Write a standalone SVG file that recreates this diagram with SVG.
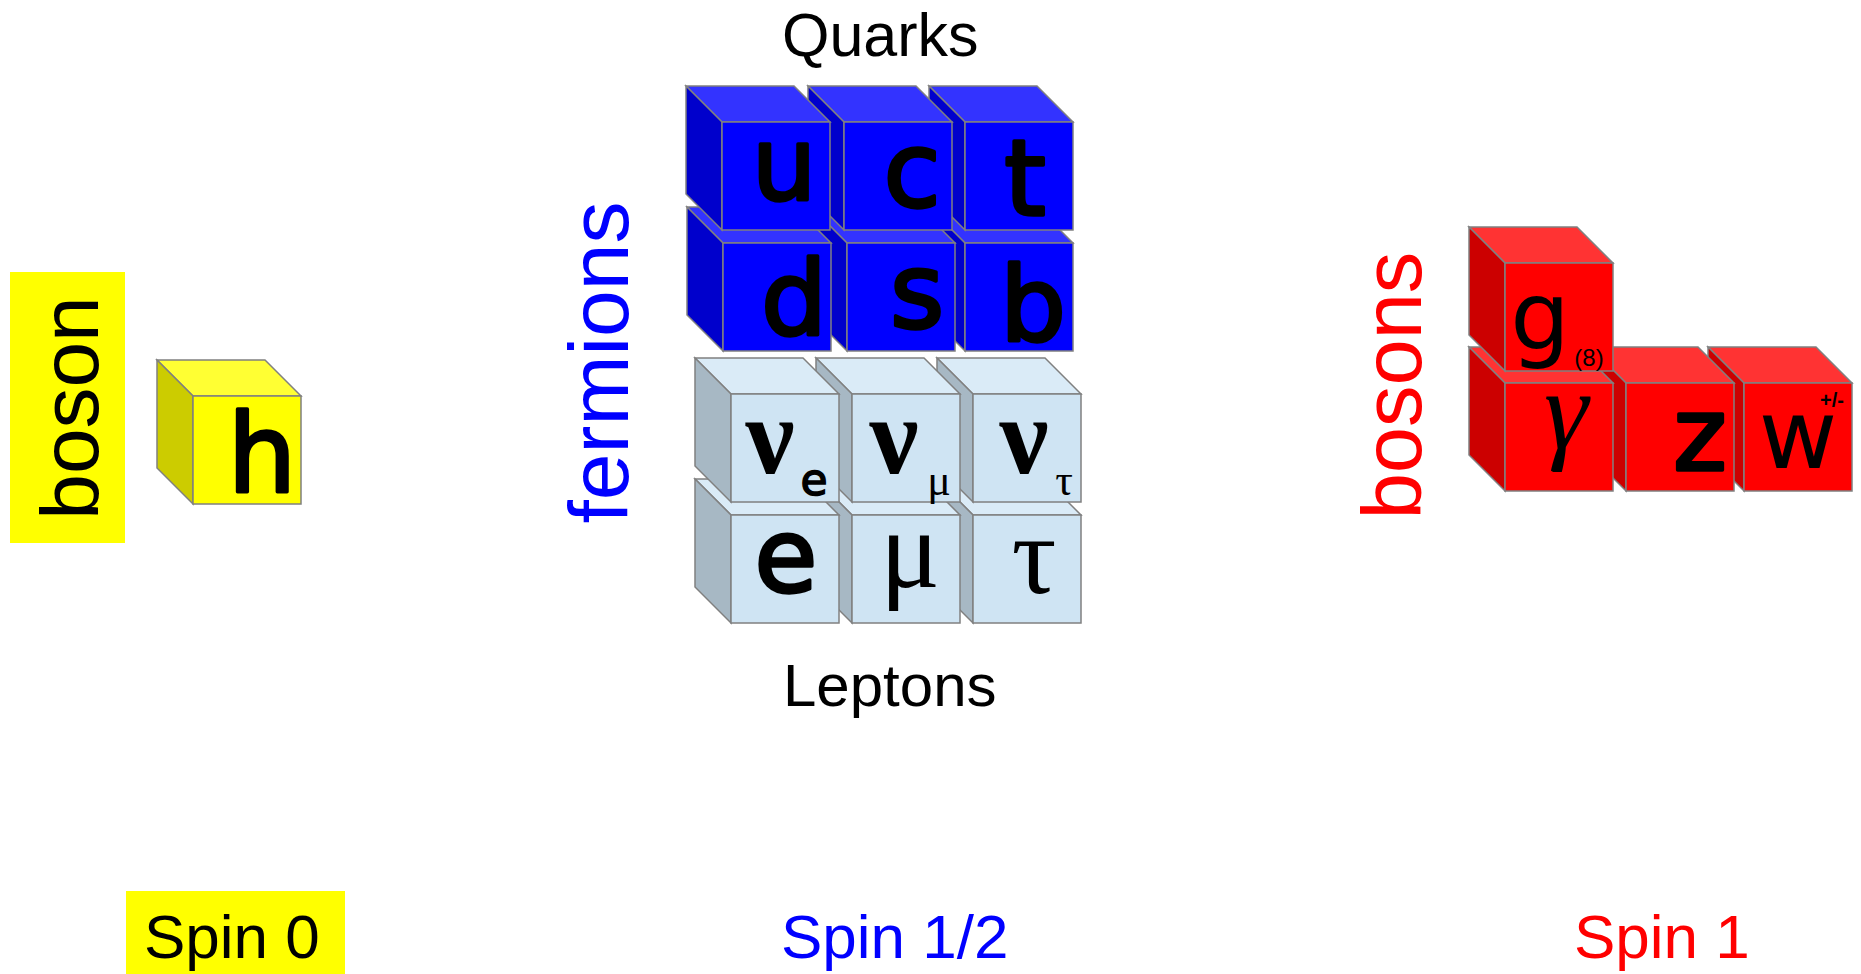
<svg xmlns="http://www.w3.org/2000/svg" width="1861" height="974" viewBox="0 0 1861 974">
<style>
.cube polygon,.cube rect{stroke:#808080;stroke-width:1.5}
.yF{fill:#FFFF00}.yT{fill:#FFFF33}.yL{fill:#CCCC00}
.bF{fill:#0000FF}.bT{fill:#3333FF}.bL{fill:#0000CC}
.lF{fill:#CFE4F3}.lT{fill:#DAEBF7}.lL{fill:#A7B8C4}
.rF{fill:#FF0000}.rT{fill:#FF3333}.rL{fill:#CC0000}
.lab{font-family:"Liberation Sans",Arial,sans-serif}
.hand{font-family:"DejaVu Sans",sans-serif;fill:#000;text-anchor:middle}
.thick{stroke:#000;stroke-width:3.5;stroke-linejoin:round;stroke-linecap:round}
.gr{font-family:"Liberation Serif","DejaVu Serif",serif;fill:#000;text-anchor:middle}
</style>
<rect width="1861" height="974" fill="#FFFFFF"/>

<!-- labels -->
<g id="label-boson">
<rect x="10" y="272" width="115" height="271" fill="#FFFF00"/>
<text class="lab" transform="translate(98,408) rotate(-90)" text-anchor="middle" font-size="82" fill="#000">boson</text>
</g>
<g id="label-fermions">
<text class="lab" transform="translate(628,362.5) rotate(-90)" text-anchor="middle" font-size="84" fill="#0000FF">fermions</text>
</g>
<g id="label-bosons">
<text class="lab" transform="translate(1421,385.5) rotate(-90)" text-anchor="middle" font-size="83" fill="#FF0000">bosons</text>
</g>
<g id="label-quarks"><text class="lab" x="782" y="56" font-size="61" fill="#000">Quarks</text></g>
<g id="label-leptons"><text class="lab" x="783" y="706" font-size="60" fill="#000">Leptons</text></g>
<g id="label-spin0">
<rect x="126" y="891" width="219" height="83" fill="#FFFF00"/>
<text class="lab" x="144" y="958" font-size="62" fill="#000">Spin 0</text>
</g>
<g id="label-spin12"><text class="lab" x="781" y="958" font-size="62" fill="#0000FF">Spin 1/2</text></g>
<g id="label-spin1"><text class="lab" x="1574" y="958" font-size="62" fill="#FF0000">Spin 1</text></g>

<!-- Higgs -->
<g id="cube-h" class="cube">
<polygon class="yT" points="157,360 265,360 301,396 193,396"/>
<polygon class="yL" points="157,360 193,396 193,504 157,468"/>
<rect class="yF" x="193" y="396" width="108" height="108"/>
<text class="hand thick" x="262" y="492" style="font-size:108px">h</text>
</g>

<!-- Quarks: row 2 first, right to left -->
<g id="cube-b" class="cube">
<polygon class="bT" points="929,207 1037,207 1073,243 965,243"/>
<polygon class="bL" points="929,207 965,243 965,351 929,315"/>
<rect class="bF" x="965" y="243" width="108" height="108"/>
<text class="hand thick" x="1033" y="341" style="font-size:104px">b</text>
</g>
<g id="cube-s" class="cube">
<polygon class="bT" points="811,207 919,207 955,243 847,243"/>
<polygon class="bL" points="811,207 847,243 847,351 811,315"/>
<rect class="bF" x="847" y="243" width="108" height="108"/>
<text class="hand thick" x="917" y="328" style="font-size:104px">s</text>
</g>
<g id="cube-d" class="cube">
<polygon class="bT" points="687,207 795,207 831,243 723,243"/>
<polygon class="bL" points="687,207 723,243 723,351 687,315"/>
<rect class="bF" x="723" y="243" width="108" height="108"/>
<text class="hand thick" x="794" y="335" style="font-size:104px">d</text>
</g>
<g id="cube-t" class="cube">
<polygon class="bT" points="929,86 1037,86 1073,122 965,122"/>
<polygon class="bL" points="929,86 965,122 965,230 929,194"/>
<rect class="bF" x="965" y="122" width="108" height="108"/>
<text class="hand thick" x="1025" y="215" style="font-size:106px">t</text>
</g>
<g id="cube-c" class="cube">
<polygon class="bT" points="808,86 916,86 952,122 844,122"/>
<polygon class="bL" points="808,86 844,122 844,230 808,194"/>
<rect class="bF" x="844" y="122" width="108" height="108"/>
<text class="hand thick" x="912" y="207" style="font-size:104px">c</text>
</g>
<g id="cube-u" class="cube">
<polygon class="bT" points="686,86 794,86 830,122 722,122"/>
<polygon class="bL" points="686,86 722,122 722,230 686,194"/>
<rect class="bF" x="722" y="122" width="108" height="108"/>
<text class="hand thick" x="784" y="200" style="font-size:102px">u</text>
</g>

<!-- Leptons: row 2 first -->
<g id="cube-tau" class="cube">
<polygon class="lT" points="937,479 1045,479 1081,515 973,515"/>
<polygon class="lL" points="937,479 973,515 973,623 937,587"/>
<rect class="lF" x="973" y="515" width="108" height="108"/>
<text class="gr" x="1034" y="593" style="font-size:112px">τ</text>
</g>
<g id="cube-mu" class="cube">
<polygon class="lT" points="816,479 924,479 960,515 852,515"/>
<polygon class="lL" points="816,479 852,515 852,623 816,587"/>
<rect class="lF" x="852" y="515" width="108" height="108"/>
<text class="gr" x="910" y="587" style="font-size:112px">μ</text>
</g>
<g id="cube-e" class="cube">
<polygon class="lT" points="695,479 803,479 839,515 731,515"/>
<polygon class="lL" points="695,479 731,515 731,623 695,587"/>
<rect class="lF" x="731" y="515" width="108" height="108"/>
<text class="hand thick" x="786" y="592" style="font-size:102px">e</text>
</g>
<g id="cube-nutau" class="cube">
<polygon class="lT" points="937,358 1045,358 1081,394 973,394"/>
<polygon class="lL" points="937,358 973,394 973,502 937,466"/>
<rect class="lF" x="973" y="394" width="108" height="108"/>
<text class="gr" x="1024" y="473" style="font-size:110px;font-weight:bold">ν</text>
<text class="gr" x="1064" y="495" style="font-size:44px">τ</text>
</g>
<g id="cube-numu" class="cube">
<polygon class="lT" points="816,358 924,358 960,394 852,394"/>
<polygon class="lL" points="816,358 852,394 852,502 816,466"/>
<rect class="lF" x="852" y="394" width="108" height="108"/>
<text class="gr" x="894" y="473" style="font-size:110px;font-weight:bold">ν</text>
<text class="gr" x="939" y="495" style="font-size:44px">μ</text>
</g>
<g id="cube-nue" class="cube">
<polygon class="lT" points="695,358 803,358 839,394 731,394"/>
<polygon class="lL" points="695,358 731,394 731,502 695,466"/>
<rect class="lF" x="731" y="394" width="108" height="108"/>
<text class="gr" x="770" y="473" style="font-size:110px;font-weight:bold">ν</text>
<text class="hand" x="814" y="495" style="font-size:44px;stroke:#000;stroke-width:1.5">e</text>
</g>

<!-- Gauge bosons -->
<g id="cube-w" class="cube">
<polygon class="rT" points="1708,347 1816,347 1852,383 1744,383"/>
<polygon class="rL" points="1708,347 1744,383 1744,491 1708,455"/>
<rect class="rF" x="1744" y="383" width="108" height="108"/>
<text class="hand" x="1798" y="468" style="font-size:96px">w</text>
<text class="lab" x="1832" y="407" font-size="20" font-weight="bold" text-anchor="middle" fill="#000">+/-</text>
</g>
<g id="cube-z" class="cube">
<polygon class="rT" points="1590,347 1698,347 1734,383 1626,383"/>
<polygon class="rL" points="1590,347 1626,383 1626,491 1590,455"/>
<rect class="rF" x="1626" y="383" width="108" height="108"/>
<text class="hand thick" x="1700" y="470" style="font-size:102px">z</text>
</g>
<g id="cube-gamma" class="cube">
<polygon class="rT" points="1469,347 1577,347 1613,383 1505,383"/>
<polygon class="rL" points="1469,347 1505,383 1505,491 1469,455"/>
<rect class="rF" x="1505" y="383" width="108" height="108"/>
<text class="gr" x="1566" y="448" style="font-size:112px;font-style:italic">γ</text>
</g>
<g id="cube-g" class="cube">
<polygon class="rT" points="1469,227 1577,227 1613,263 1505,263"/>
<polygon class="rL" points="1469,227 1505,263 1505,371 1469,335"/>
<rect class="rF" x="1505" y="263" width="108" height="108"/>
<text class="hand" x="1540" y="349" style="font-size:94px">g</text>
<text class="lab" x="1589" y="366" font-size="24" text-anchor="middle" fill="#000">(8)</text>
</g>

<g id="connectors"></g>
</svg>
